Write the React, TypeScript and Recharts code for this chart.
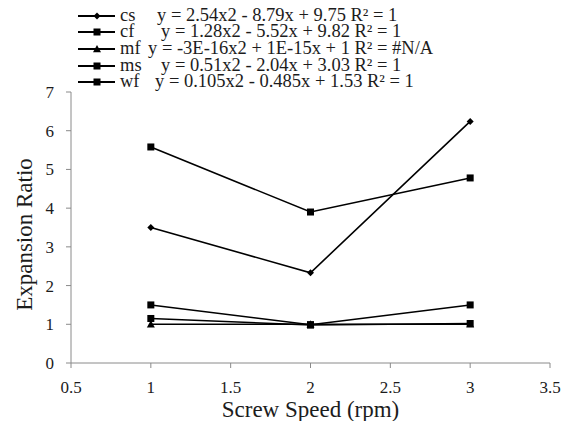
import React from "react";
import { Legend, Line, LineChart, XAxis, YAxis } from "recharts";

const speeds = [1, 2, 3];
const cs = [3.5, 2.33, 6.24];
const cf = [5.58, 3.9, 4.78];
const mf = [1, 1, 1];
const ms = [1.5, 0.99, 1.5];
const wf = [1.15, 0.98, 1.02];

const seriesNames = ["cs", "cf", "mf", "ms", "wf"];
const markers = ["diamond", "square", "triangle", "square", "square"];
const equations = [
  "y = 2.54x2 - 8.79x + 9.75 R\u00b2 = 1",
  "y = 1.28x2 - 5.52x + 9.82 R\u00b2 = 1",
  "y = -3E-16x2 + 1E-15x + 1  R\u00b2 = #N/A",
  "y = 0.51x2 - 2.04x + 3.03 R\u00b2 = 1",
  "y = 0.105x2 - 0.485x + 1.53 R\u00b2 = 1",
];
const equationX = [157, 161, 148, 161, 155];

const xTicks = [0.5, 1, 1.5, 2, 2.5, 3, 3.5];
const yTicks = [0, 1, 2, 3, 4, 5, 6, 7];

const data = speeds.map((s, i) => ({
  speed: s,
  cs: cs[i],
  cf: cf[i],
  mf: mf[i],
  ms: ms[i],
  wf: wf[i],
}));

const FONT = "Liberation Serif, DejaVu Serif, serif";
const AXIS = "#8a8a8a";
const TEXT = "#1c1c1c";

function Marker({ cx, cy, kind }: { cx: number; cy: number; kind: string }) {
  if (cx == null || cy == null) return null;
  if (kind === "diamond") {
    const r = 3.5;
    return (
      <path
        d={`M${cx},${cy - r} L${cx + r},${cy} L${cx},${cy + r} L${cx - r},${cy} Z`}
        fill="#000"
      />
    );
  }
  if (kind === "triangle") {
    const r = 4;
    return (
      <path
        d={`M${cx},${cy - r} L${cx + r},${cy + r * 0.8} L${cx - r},${cy + r * 0.8} Z`}
        fill="#000"
      />
    );
  }
  return <rect x={cx - 3.5} y={cy - 3.5} width={7} height={7} fill="#000" />;
}

function LegendBox() {
  const rows = [16, 32, 49, 66, 82];
  return (
    <svg width={470} height={92} style={{ display: "block", fontFamily: FONT }}>
      {seriesNames.map((name, i) => (
        <g key={name}>
          <line x1={78} x2={115} y1={rows[i]} y2={rows[i]} stroke="#000" strokeWidth={1.8} />
          <Marker cx={97} cy={rows[i]} kind={markers[i]} />
          <text x={120} y={rows[i]} dy="0.27em" style={{ fontFamily: FONT }} fontSize={18.5} fill={TEXT}>
            {name}
          </text>
          <text
            x={equationX[i]}
            y={rows[i]}
            dy="0.27em"
            style={{ fontFamily: FONT }}
            fontSize={18.5}
            fill={TEXT}
          >
            {equations[i]}
          </text>
        </g>
      ))}
    </svg>
  );
}

export default function App() {
  return (
    <div
      style={{
        position: "absolute",
        left: 0,
        top: 0,
        width: 568,
        height: 421,
        background: "#fff",
        fontFamily: FONT,
      }}
    >
      <LineChart
        width={568}
        height={421}
        data={data}
        margin={{ top: 92, right: 18, bottom: 0, left: 0 }}
        style={{ fontFamily: FONT }}
      >
        <XAxis
          dataKey="speed"
          type="number"
          domain={[0.5, 3.5]}
          ticks={xTicks}
          height={58}
          stroke={AXIS}
          tickSize={5}
          tickMargin={13}
          tick={{ style: { fontFamily: FONT }, fontSize: 17, fill: TEXT }}
          label={{
            value: "Screw Speed (rpm)",
            position: "insideBottom",
            offset: 4,
            style: { fontFamily: FONT },
            fontSize: 23,
            fill: TEXT,
          }}
        />
        <YAxis
          type="number"
          domain={[0, 7]}
          ticks={yTicks}
          width={71}
          stroke={AXIS}
          tickSize={5}
          tickMargin={12}
          tick={{ style: { fontFamily: FONT }, fontSize: 17, fill: TEXT }}
          label={(props: any) => {
            const vb = props.viewBox;
            const cy = vb.y + vb.height / 2 + 7;
            return (
              <text
                x={24}
                y={cy}
                transform={`rotate(-90, 24, ${cy})`}
                textAnchor="middle"
                dominantBaseline="central"
                style={{ fontFamily: FONT }}
                fontSize={23}
                fill={TEXT}
              >
                Expansion Ratio
              </text>
            );
          }}
        />
        <Legend
          layout="vertical"
          align="center"
          verticalAlign="middle"
          wrapperStyle={{ top: 0, left: 0, width: 470, height: 92 }}
          content={() => <LegendBox />}
        />
        {seriesNames.map((name, i) => (
          <Line
            key={name}
            dataKey={name}
            type="linear"
            stroke="#000"
            strokeWidth={1.6}
            isAnimationActive={false}
            dot={(p: any) => (
              <Marker key={`${name}-${p.index}`} cx={p.cx} cy={p.cy} kind={markers[i]} />
            )}
            activeDot={false}
          />
        ))}
      </LineChart>
    </div>
  );
}
